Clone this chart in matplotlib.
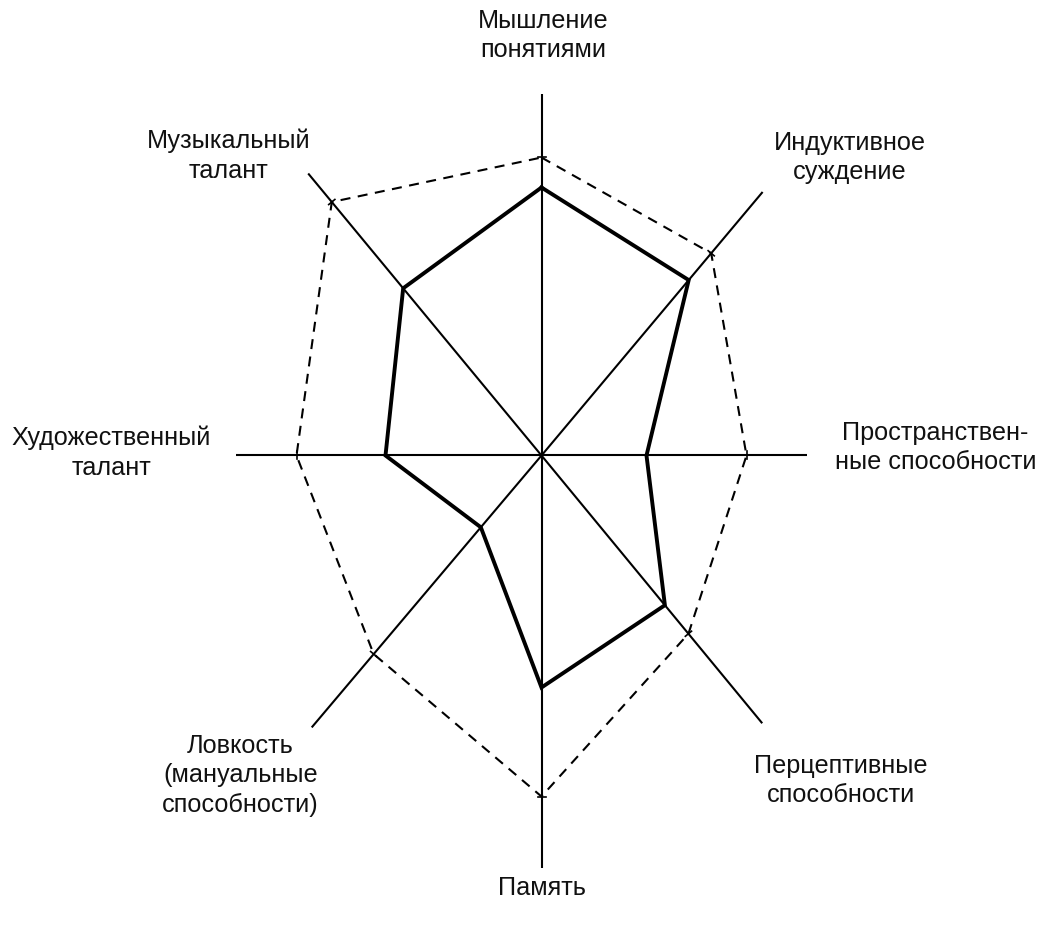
import numpy as np
import matplotlib
matplotlib.use("Agg")
import matplotlib.pyplot as plt

plt.rcParams["font.family"] = ["Liberation Sans", "DejaVu Sans"]

# axes of the profile, clockwise from the top
labels = [
    "Мышление\nпонятиями",
    "Индуктивное\nсуждение",
    "Пространствен-\nные способности",
    "Перцептивные\nспособности",
    "Память",
    "Ловкость\n(мануальные\nспособности)",
    "Художественный\nталант",
    "Музыкальный\nталант",
]
angles_deg = [90, 50, 0, -50.5, -90, 229.8, 180, 129.6]
axis_len = [361, 344, 265, 347, 412, 356, 306, 366]

# solid profile and dashed profile
solid = [268, 229, 105, 194, 232, 94, 156, 217]
dashed = [298, 264, 205, 231, 341, 260, 245, 329]

# label centres (x, y) relative to the chart centre, pixels
label_pos = [(2, 420), (308, 298), (394, 8), (299, -325),
             (0, -432), (-301, -320), (-430, 3), (-313, 300)]

CX, CY = 541.5, 455.5
W, H = 1040, 930

theta = np.radians(angles_deg)


def to_xy(r):
    r = np.asarray(r, dtype=float)
    return r * np.cos(theta), r * np.sin(theta)


fig = plt.figure(figsize=(W / 100, H / 100), dpi=100)
ax = fig.add_axes([0, 0, 1, 1])
ax.set_xlim(-CX, W - CX)
ax.set_ylim(-(H - CY), CY)
ax.axis("off")

# axis rays
ex, ey = to_xy(axis_len)
for x, y in zip(ex, ey):
    ax.plot([0, x], [0, y], color="black", lw=1.5, solid_capstyle="butt")

# dashed outer profile
dx, dy = to_xy(dashed)
ax.plot(np.append(dx, dx[0]), np.append(dy, dy[0]), color="black", lw=1.5,
        linestyle=(0, (4.8, 3.6)))
# small cross ticks on the axes at dashed vertices
for t, x, y in zip(theta, dx, dy):
    nx, ny = -np.sin(t) * 4, np.cos(t) * 4
    ax.plot([x - nx, x + nx], [y - ny, y + ny], color="black", lw=1.2)

# solid profile
sx, sy = to_xy(solid)
ax.plot(np.append(sx, sx[0]), np.append(sy, sy[0]), color="black", lw=2.8,
        solid_joinstyle="miter")

for text, (x, y) in zip(labels, label_pos):
    ax.text(x, y, text, ha="center", va="center", ma="center",
            fontsize=18.2, linespacing=1.3, color="#111111")

fig.savefig("out.png", dpi=100)
